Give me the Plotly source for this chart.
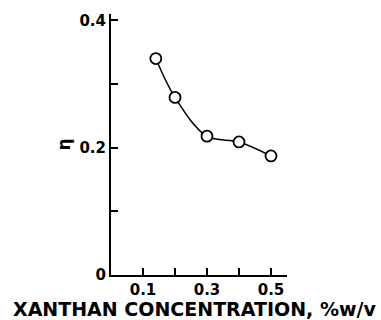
import plotly.graph_objects as go

conc = [0.14, 0.20, 0.30, 0.40, 0.50]
eta = [0.340, 0.279, 0.218, 0.209, 0.187]

x_tickvals = [0.1, 0.2, 0.3, 0.4, 0.5]
x_ticktext = ["0.1", "", "0.3", "", "0.5"]
y_tickvals = [0, 0.1, 0.2, 0.3, 0.4]
y_ticktext = ["0", "", "0.2", "", "0.4"]
x_title = "XANTHAN CONCENTRATION, %w/v"
y_title = "η"

fig = go.Figure()
fig.add_trace(go.Scatter(
    x=conc, y=eta, mode="lines+markers",
    line=dict(color="black", width=1.5, shape="spline", smoothing=1.0),
    marker=dict(symbol="circle", size=11, color="white",
                line=dict(color="black", width=1.8)),
    showlegend=False, cliponaxis=False,
))

font = dict(family="DejaVu Sans", color="black", size=15, weight="bold")

fig.update_layout(
    width=381, height=320,
    margin=dict(l=111, r=94, t=14, b=45),
    paper_bgcolor="white", plot_bgcolor="white",
    font=font,
    xaxis=dict(range=[0, 0.55], tickvals=x_tickvals, ticktext=x_ticktext,
               ticks="inside", ticklen=7, tickwidth=1.5, tickcolor="black",
               showline=True, linecolor="black", linewidth=2,
               showgrid=False, zeroline=False, tickfont=font, automargin=False),
    yaxis=dict(range=[0, 0.41], tickvals=y_tickvals, ticktext=y_ticktext,
               ticks="inside", ticklen=7, tickwidth=1.5, tickcolor="black",
               showline=True, linecolor="black", linewidth=2,
               showgrid=False, zeroline=False, tickfont=font, automargin=False),
    annotations=[
        dict(text=x_title, xref="paper", yref="paper", x=0.477, y=0,
             xanchor="center", yanchor="middle", yshift=-34, showarrow=False,
             font=dict(family="DejaVu Sans", size=19, color="black", weight="bold")),
        dict(text=y_title, xref="paper", yref="paper", x=0, y=0.5,
             xanchor="center", yanchor="middle", xshift=-48, showarrow=False,
             textangle=-90,
             font=dict(family="DejaVu Sans", size=17, color="black")),
    ],
)

fig.write_html("out.html")
